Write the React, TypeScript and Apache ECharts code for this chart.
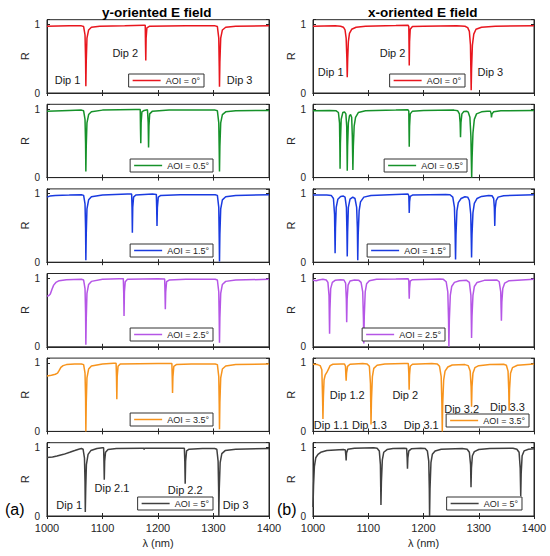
import React, { useEffect, useRef } from "react";
import * as echarts from "echarts";

// ---------- data ----------
const wavelengthTicks = [1000, 1100, 1200, 1300, 1400];
const aoiLabels = ["AOI = 0°", "AOI = 0.5°", "AOI = 1.5°", "AOI = 2.5°", "AOI = 3.5°", "AOI = 5°"];
const aoiColors = ["#e8161e", "#16922a", "#1a3be0", "#b556e6", "#f7941d", "#404040"];
const columnTitles = ["y-oriented E field", "x-oriented E field"];
const panelTags = ["(a)", "(b)"];

// y-oriented E field
const yAoi0 = [[1000,0.975],[1040,0.98],[1062,0.98],[1066,0.97],[1068.5,0.85],[1069.5,0.5],[1070,0.1],[1070.7,0.45],[1072,0.8],[1075,0.92],[1080,0.96],[1095,0.975],[1140,0.98],[1175,0.99],[1177,0.99],[1177.5,0.7],[1178,0.475],[1178.6,0.8],[1180,0.95],[1185,0.975],[1250,0.98],[1303,0.98],[1307,0.97],[1309.5,0.8],[1310.3,0.4],[1310.8,0.09],[1311.5,0.45],[1313,0.8],[1316,0.92],[1322,0.96],[1340,0.975],[1400,0.98]];
const yAoi05 = [[1000,0.97],[1040,0.98],[1062,0.985],[1066,0.975],[1068.5,0.85],[1069.5,0.5],[1070,0.09],[1070.7,0.45],[1072,0.8],[1075,0.92],[1080,0.96],[1100,0.985],[1160,0.995],[1168,0.995],[1168.5,0.7],[1169,0.5],[1169.6,0.8],[1171,0.96],[1175,0.98],[1181,0.99],[1182.3,0.8],[1183,0.44],[1183.7,0.75],[1185,0.93],[1190,0.97],[1220,0.985],[1303,0.985],[1307,0.975],[1309.5,0.8],[1310.3,0.4],[1310.8,0.09],[1311.5,0.45],[1313,0.8],[1316,0.92],[1322,0.96],[1340,0.975],[1400,0.98]];
const yAoi15 = [[1000,0.95],[1005,0.965],[1015,0.975],[1040,0.98],[1062,0.985],[1066,0.975],[1068.5,0.85],[1069.5,0.5],[1070,0.03],[1070.7,0.4],[1072,0.78],[1075,0.91],[1080,0.955],[1100,0.98],[1145,0.995],[1152.5,0.995],[1153.2,0.8],[1153.8,0.43],[1154.5,0.8],[1156,0.95],[1160,0.98],[1190,0.995],[1197,0.99],[1197.6,0.8],[1198.2,0.53],[1198.9,0.8],[1200.5,0.95],[1205,0.975],[1240,0.985],[1303,0.985],[1307,0.975],[1309.5,0.8],[1310.3,0.35],[1310.8,0.01],[1311.5,0.4],[1313,0.78],[1316,0.91],[1322,0.955],[1340,0.975],[1400,0.985]];
const yAoi25 = [[1000,0.74],[1003,0.745],[1006,0.77],[1009,0.84],[1012,0.9],[1016,0.94],[1022,0.965],[1035,0.98],[1062,0.985],[1066,0.975],[1068.5,0.85],[1069.5,0.5],[1070,0.03],[1070.7,0.4],[1072,0.78],[1075,0.91],[1080,0.955],[1100,0.985],[1130,0.995],[1137.5,0.995],[1138.2,0.8],[1138.8,0.45],[1139.5,0.8],[1141,0.95],[1145,0.985],[1200,0.995],[1212,0.99],[1212.6,0.8],[1213.2,0.55],[1213.9,0.8],[1215.5,0.95],[1220,0.975],[1250,0.985],[1303,0.985],[1307,0.975],[1309.5,0.8],[1310.3,0.4],[1310.8,0.06],[1311.5,0.42],[1313,0.78],[1316,0.91],[1322,0.955],[1340,0.975],[1400,0.985]];
const yAoi35 = [[1000,0.81],[1008,0.82],[1015,0.835],[1019,0.85],[1022,0.89],[1025,0.935],[1029,0.96],[1035,0.975],[1050,0.985],[1062,0.985],[1066,0.975],[1068.5,0.85],[1069.5,0.5],[1070,0.0],[1070.7,0.4],[1072,0.78],[1075,0.91],[1080,0.955],[1100,0.985],[1120,0.995],[1124.5,0.995],[1125.2,0.8],[1125.8,0.47],[1126.5,0.8],[1128,0.95],[1132,0.985],[1200,0.99],[1225,0.99],[1225.6,0.8],[1226.2,0.56],[1226.9,0.8],[1228.5,0.95],[1233,0.975],[1260,0.985],[1303,0.985],[1307,0.975],[1309.5,0.8],[1310.3,0.4],[1310.8,0.03],[1311.5,0.42],[1313,0.78],[1316,0.91],[1322,0.955],[1340,0.975],[1400,0.985]];
const yAoi5 = [[1000,0.855],[1010,0.86],[1018,0.875],[1030,0.9],[1041,0.93],[1050,0.955],[1057,0.975],[1062,0.985],[1065,0.975],[1067.5,0.85],[1068.5,0.5],[1069,0.06],[1069.8,0.4],[1071,0.75],[1074,0.9],[1079,0.955],[1090,0.985],[1100,0.995],[1102,0.995],[1102.6,0.8],[1103.2,0.53],[1103.9,0.8],[1105.5,0.93],[1110,0.97],[1125,0.985],[1170,0.99],[1174.5,0.99],[1175,0.97],[1175.6,0.99],[1200,0.99],[1247.5,0.99],[1248.3,0.8],[1249,0.47],[1249.8,0.8],[1251.5,0.95],[1256,0.975],[1280,0.985],[1302,0.985],[1306,0.975],[1308.3,0.8],[1309.2,0.4],[1309.6,0.0],[1310.4,0.4],[1312,0.78],[1315,0.91],[1321,0.955],[1340,0.975],[1400,0.985]];

// x-oriented E field
const xAoi0 = [[1000,0.975],[1040,0.98],[1050,0.975],[1055,0.96],[1058,0.92],[1060,0.8],[1061.3,0.5],[1062,0.23],[1062.8,0.5],[1064,0.75],[1066,0.87],[1070,0.93],[1078,0.96],[1095,0.975],[1150,0.985],[1172,0.99],[1173.4,0.97],[1173.8,0.7],[1174.2,0.4],[1174.8,0.75],[1176,0.93],[1180,0.97],[1200,0.975],[1260,0.98],[1275,0.975],[1280,0.955],[1283,0.9],[1285,0.7],[1285.8,0.3],[1286.3,0.04],[1287,0.35],[1288.5,0.7],[1291,0.86],[1295,0.93],[1305,0.96],[1330,0.975],[1400,0.98]];
const xAoi05 = [[1000,0.975],[1030,0.98],[1042,0.975],[1046,0.95],[1048,0.8],[1048.7,0.4],[1049,0.13],[1049.6,0.5],[1051,0.85],[1054,0.95],[1057,0.96],[1059.5,0.93],[1061,0.75],[1061.6,0.4],[1062,0.1],[1062.6,0.45],[1064,0.8],[1066,0.9],[1068,0.92],[1070,0.88],[1071.2,0.6],[1071.8,0.3],[1072.2,0.11],[1073,0.45],[1074.5,0.75],[1077,0.88],[1082,0.95],[1095,0.975],[1150,0.985],[1172,0.99],[1173.4,0.97],[1173.8,0.7],[1174.2,0.45],[1174.8,0.75],[1176,0.93],[1180,0.97],[1200,0.98],[1255,0.985],[1262,0.975],[1265,0.93],[1266.3,0.8],[1267,0.59],[1267.8,0.8],[1269.5,0.93],[1273,0.965],[1278,0.97],[1281,0.955],[1284,0.88],[1285.8,0.6],[1286.6,0.25],[1287.2,0.0],[1288,0.3],[1289.5,0.65],[1292,0.85],[1296,0.93],[1305,0.96],[1315,0.97],[1321,0.97],[1322.5,0.93],[1323,0.88],[1324,0.93],[1327,0.96],[1340,0.975],[1400,0.98]];
const xAoi15 = [[1000,0.98],[1025,0.98],[1033,0.975],[1037,0.93],[1039,0.7],[1039.6,0.35],[1040,0.13],[1040.7,0.5],[1042,0.8],[1045,0.92],[1050,0.96],[1055,0.965],[1058,0.95],[1060.5,0.8],[1061.4,0.45],[1062,0.085],[1062.7,0.45],[1064,0.8],[1067,0.92],[1072,0.95],[1076,0.93],[1079,0.8],[1080.3,0.5],[1081,0.03],[1081.8,0.4],[1083.5,0.75],[1086,0.88],[1092,0.95],[1105,0.975],[1150,0.99],[1172,0.995],[1173.4,0.97],[1173.8,0.85],[1174.2,0.72],[1174.8,0.88],[1176,0.96],[1180,0.98],[1240,0.99],[1248,0.985],[1253,0.95],[1256,0.8],[1257.2,0.45],[1258,0.04],[1258.8,0.4],[1260.5,0.75],[1263,0.87],[1268,0.93],[1275,0.955],[1280,0.95],[1283,0.9],[1285.5,0.7],[1286.4,0.35],[1287,0.07],[1287.8,0.4],[1289.5,0.72],[1292,0.86],[1297,0.93],[1305,0.96],[1318,0.975],[1324,0.97],[1327,0.93],[1328.2,0.8],[1329,0.53],[1329.8,0.78],[1331.5,0.9],[1335,0.95],[1345,0.97],[1400,0.985]];
const xAoi25 = [[1000,0.97],[1006,0.965],[1010,0.975],[1018,0.985],[1024,0.975],[1027,0.94],[1029,0.75],[1029.6,0.4],[1030,0.19],[1030.7,0.55],[1032,0.85],[1035,0.94],[1040,0.97],[1050,0.98],[1056,0.975],[1059,0.93],[1060.3,0.7],[1061,0.36],[1061.8,0.7],[1063.5,0.9],[1067,0.96],[1075,0.975],[1083,0.97],[1087,0.94],[1090,0.8],[1091.3,0.4],[1092,0.05],[1092.8,0.45],[1094.5,0.8],[1097,0.92],[1102,0.965],[1115,0.985],[1150,0.99],[1172,0.995],[1173.4,0.97],[1173.8,0.8],[1174.2,0.7],[1174.8,0.85],[1176,0.96],[1180,0.98],[1230,0.99],[1236,0.985],[1241,0.95],[1244,0.8],[1245.3,0.4],[1246,0.0],[1246.8,0.4],[1248.5,0.75],[1251,0.88],[1256,0.94],[1265,0.965],[1278,0.97],[1283,0.94],[1285.8,0.75],[1286.5,0.4],[1287,0.13],[1287.8,0.45],[1289.5,0.75],[1292,0.88],[1297,0.94],[1310,0.97],[1333,0.975],[1337,0.95],[1339.8,0.8],[1340.5,0.55],[1341,0.38],[1341.8,0.65],[1343.5,0.85],[1347,0.93],[1355,0.965],[1400,0.985]];
const xAoi35 = [[1000,0.98],[1008,0.975],[1013,0.96],[1016,0.9],[1017.3,0.5],[1018,0.18],[1018.8,0.5],[1020,0.75],[1022,0.82],[1025,0.86],[1028,0.91],[1031,0.96],[1036,0.98],[1050,0.985],[1057,0.985],[1058.8,0.95],[1059.6,0.8],[1060,0.74],[1060.7,0.85],[1062.5,0.95],[1067,0.98],[1090,0.99],[1098,0.985],[1102,0.95],[1104,0.7],[1104.6,0.35],[1105,0.1],[1105.8,0.45],[1107.5,0.8],[1110,0.92],[1116,0.965],[1130,0.985],[1165,0.99],[1172.5,0.99],[1173.4,0.85],[1174,0.61],[1174.7,0.82],[1176,0.95],[1180,0.98],[1215,0.99],[1225,0.985],[1229,0.95],[1232,0.8],[1233.3,0.4],[1234,0.0],[1234.8,0.4],[1236.5,0.75],[1239,0.88],[1244,0.94],[1252,0.97],[1275,0.975],[1281,0.96],[1284.5,0.88],[1286.2,0.65],[1287,0.36],[1287.8,0.65],[1289.5,0.85],[1293,0.93],[1300,0.96],[1320,0.975],[1345,0.98],[1350,0.965],[1353,0.88],[1354.3,0.6],[1355,0.3],[1355.8,0.62],[1357.5,0.85],[1361,0.93],[1370,0.965],[1400,0.985]];
const xAoi5 = [[1000,0.13],[1001,0.45],[1002.5,0.72],[1005,0.85],[1009,0.9],[1014,0.93],[1025,0.955],[1040,0.965],[1055,0.97],[1058.5,0.965],[1059.5,0.88],[1060,0.81],[1060.7,0.92],[1063,0.975],[1075,0.99],[1110,0.995],[1116,0.99],[1120,0.95],[1122,0.75],[1122.6,0.4],[1123,0.16],[1123.8,0.5],[1125.5,0.82],[1128,0.93],[1134,0.97],[1145,0.985],[1165,0.99],[1169.5,0.985],[1170.4,0.85],[1171,0.69],[1171.7,0.85],[1173.5,0.95],[1178,0.98],[1195,0.99],[1203,0.985],[1207,0.95],[1209.5,0.8],[1210.5,0.4],[1211,0.0],[1211.8,0.4],[1213.5,0.78],[1216,0.9],[1221,0.95],[1232,0.975],[1270,0.985],[1279,0.975],[1283,0.93],[1285.2,0.75],[1286,0.42],[1286.8,0.7],[1288.5,0.88],[1292,0.94],[1300,0.97],[1320,0.985],[1362,0.99],[1369,0.975],[1373,0.93],[1375,0.7],[1375.6,0.45],[1376,0.29],[1376.8,0.62],[1378.5,0.88],[1382,0.95],[1390,0.975],[1400,0.98]];

const yCurves = [yAoi0, yAoi05, yAoi15, yAoi25, yAoi35, yAoi5];
const xCurves = [xAoi0, xAoi05, xAoi15, xAoi25, xAoi35, xAoi5];

// dip annotations: [text, wavelength, R]
const yDips = [
  [["Dip 1", 1037, 0.19], ["Dip 2", 1141, 0.59], ["Dip 3", 1347, 0.19]],
  [], [], [], [],
  [["Dip 1", 1040, 0.16], ["Dip 2.1", 1117, 0.41], ["Dip 2.2", 1249, 0.38], ["Dip 3", 1340, 0.16]],
];
const xDips = [
  [["Dip 1", 1032, 0.31], ["Dip 2", 1144, 0.59], ["Dip 3", 1321, 0.31]],
  [], [], [],
  [["Dip 1.2", 1062, 0.535], ["Dip 2", 1167, 0.525], ["Dip 1.1", 1033, 0.094], ["Dip 1.3", 1102, 0.094], ["Dip 3.1", 1196, 0.094], ["Dip 3.2", 1269, 0.33], ["Dip 3.3", 1352, 0.36]],
  [],
];

// ---------- layout ----------
const ROW_BOTTOM = [93, 177.6, 262.2, 346.8, 431.4, 516];
const Y_MAX = 1.07;
const PLOT_H = 73.3;
const COL_LEFT = [47, 313];
const COL_W = [222, 221];
const LEGEND_POS = [
  [[346, 74], [85, 74]],
  [[337, 159], [83, 159]],
  [[337, 244], [100, 244]],
  [[337, 328], [105, 328]],
  [[337, 413], [21, 414]],
  [[337, 497], [28, 497]],
];
const FONT = "'Liberation Sans', Arial, Helvetica, sans-serif";
const AXIS_COLOR = "#262626";

export default function App() {
  const ref = useRef<HTMLDivElement>(null);
  useEffect(() => {
    if (!ref.current) return;
    const chart = echarts.init(ref.current, null, { renderer: "svg" });
    const grid: any[] = [];
    const xAxis: any[] = [];
    const yAxis: any[] = [];
    const series: any[] = [];
    const legend: any[] = [];
    for (let r = 0; r < 6; r++) {
      for (let c = 0; c < 2; c++) {
        const g = r * 2 + c;
        grid.push({
          left: COL_LEFT[c],
          top: ROW_BOTTOM[r] - PLOT_H,
          width: COL_W[c],
          height: PLOT_H,
          show: true,
          borderColor: AXIS_COLOR,
          borderWidth: 1,
          backgroundColor: "#fff",
        });
        const isBottom = r === 5;
        xAxis.push({
          type: "value",
          gridIndex: g,
          min: wavelengthTicks[0],
          max: wavelengthTicks[wavelengthTicks.length - 1],
          interval: 100,
          position: "bottom",
          name: isBottom ? "λ (nm)" : "",
          nameLocation: "middle",
          nameGap: 21,
          nameTextStyle: { fontFamily: FONT, fontSize: 11, color: AXIS_COLOR },
          axisLine: { show: true, lineStyle: { color: AXIS_COLOR, width: 1 } },
          axisTick: { show: true, inside: true, length: 3, lineStyle: { color: AXIS_COLOR } },
          axisLabel: {
            show: isBottom,
            fontFamily: FONT,
            fontSize: 11,
            color: AXIS_COLOR,
            margin: 6,
            formatter: (v: number) => String(v),
          },
          splitLine: { show: false },
        });
        xAxis.push({
          type: "value",
          gridIndex: g,
          min: wavelengthTicks[0],
          max: wavelengthTicks[wavelengthTicks.length - 1],
          interval: 100,
          position: "top",
          axisLine: { show: true, lineStyle: { color: AXIS_COLOR, width: 1 } },
          axisTick: { show: true, inside: true, length: 3, lineStyle: { color: AXIS_COLOR } },
          axisLabel: { show: false },
          splitLine: { show: false },
        });
        yAxis.push({
          type: "value",
          gridIndex: g,
          min: 0,
          max: Y_MAX,
          interval: 1,
          position: "left",
          name: "R",
          nameLocation: "middle",
          nameGap: 16,
          nameRotate: 90,
          nameTextStyle: { fontFamily: FONT, fontSize: 11, color: AXIS_COLOR },
          axisLine: { show: true, lineStyle: { color: AXIS_COLOR, width: 1 } },
          axisTick: { show: true, inside: true, length: 3, lineStyle: { color: AXIS_COLOR } },
          axisLabel: {
            fontFamily: FONT,
            fontSize: 10,
            color: AXIS_COLOR,
            margin: 7,
            formatter: (v: number) => (v === 0 || v === 1 ? String(v) : ""),
          },
          splitLine: { show: false },
        });
        yAxis.push({
          type: "value",
          gridIndex: g,
          min: 0,
          max: Y_MAX,
          interval: 1,
          position: "right",
          axisLine: { show: true, lineStyle: { color: AXIS_COLOR, width: 1 } },
          axisTick: { show: true, inside: true, length: 3, lineStyle: { color: AXIS_COLOR } },
          axisLabel: { show: false },
          splitLine: { show: false },
        });
        const curve = c === 0 ? yCurves[r] : xCurves[r];
        const dips = c === 0 ? yDips[r] : xDips[r];
        series.push({
          type: "line",
          name: aoiLabels[r],
          xAxisIndex: g * 2,
          yAxisIndex: g * 2,
          data: curve,
          symbol: "none",
          smooth: false,
          lineStyle: { color: aoiColors[r], width: 1.5 },
          itemStyle: { color: aoiColors[r] },
          z: 3,
          markPoint: dips.length
            ? {
                symbol: "circle",
                symbolSize: 1,
                itemStyle: { color: "rgba(0,0,0,0)" },
                label: {
                  show: true,
                  position: "inside",
                  formatter: "{b}",
                  fontFamily: FONT,
                  fontSize: 11,
                  color: "#1a1a1a",
                },
                data: dips.map((d: any) => ({ name: d[0], coord: [d[1], d[2]] })),
                z: 5,
              }
            : undefined,
        });
        const lp = LEGEND_POS[r][c];
        legend.push({
          data: [aoiLabels[r]],
          right: lp[0],
          top: lp[1],
          orient: "horizontal",
          icon: "rect",
          itemWidth: 28,
          itemHeight: 1.5,
          itemGap: 4,
          padding: [2, 4, 2, 4],
          borderColor: "#333",
          borderWidth: 1,
          backgroundColor: "#fff",
          selectedMode: false,
          textStyle: { fontFamily: FONT, fontSize: 9, color: AXIS_COLOR },
          z: 10,
        });
      }
    }
    chart.setOption({
      animation: false,
      backgroundColor: "#fff",
      grid,
      xAxis,
      yAxis,
      series,
      legend,
      graphic: [
        { type: "text", left: 158 - 56, top: 5, style: { text: columnTitles[0], font: `bold 13.5px ${FONT}`, fill: "#000" } },
        { type: "text", left: 424 - 56, top: 5, style: { text: columnTitles[1], font: `bold 13.5px ${FONT}`, fill: "#000" } },
        { type: "text", left: 5, top: 501, style: { text: panelTags[0], font: `16px ${FONT}`, fill: "#000" } },
        { type: "text", left: 277, top: 501, style: { text: panelTags[1], font: `16px ${FONT}`, fill: "#000" } },
      ],
    });
    return () => chart.dispose();
  }, []);
  return <div ref={ref} style={{ position: "absolute", left: 0, top: 0, width: 550, height: 556 }} />;
}
